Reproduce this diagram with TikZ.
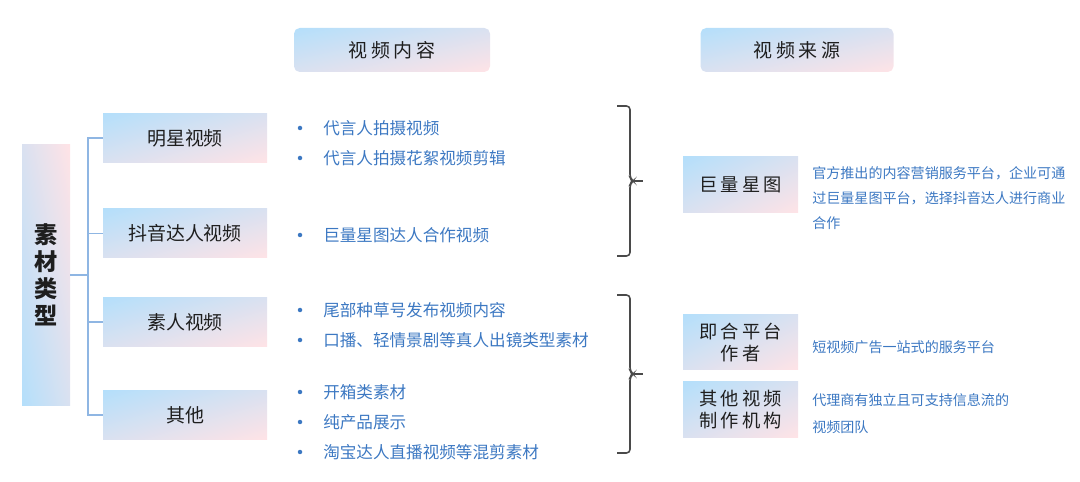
\documentclass[tikz,border=0pt]{standalone}
\usepackage{fontspec}
\setmainfont{Noto Sans CJK SC}
\newfontfamily\spacedfont[LetterSpace=18]{Noto Sans CJK SC}
\usetikzlibrary{positioning,calc}
\definecolor{skyblue}  {HTML}{B4DFFB}
\definecolor{blush}    {HTML}{FFE3E6}
\definecolor{linkblue} {HTML}{8FB6E3}
\definecolor{textblue} {HTML}{3C78C2}
\definecolor{ink}      {HTML}{1E1E1E}
\definecolor{bracegray}{HTML}{4A4A4A}
% skyblue top left -> blush bottom right
\pgfdeclarefunctionalshading{softdiag}{\pgfpointorigin}{\pgfpoint{100bp}{100bp}}{}{%
  sub 50 add 100 div
  dup 0.294 mul 0.706 add exch
  dup 0.015 mul 0.875 add exch
  0.082 mul neg 0.984 add}
% skyblue bottom left -> blush top right
\pgfdeclarefunctionalshading{softrise}{\pgfpointorigin}{\pgfpoint{100bp}{100bp}}{}{%
  add 50 sub 100 div
  dup 0.294 mul 0.706 add exch
  dup 0.015 mul 0.875 add exch
  0.082 mul neg 0.984 add}
\tikzset{
  % --- nodes
  grad/.style   = {shade, shading=softdiag, draw=none, inner sep=0pt,
                   align=center, text=ink},
  head/.style   = {grad, rounded corners=4pt, minimum width=4.9cm, minimum height=1.1cm,
                   font=\spacedfont\fontsize{13.5}{16}\selectfont},
  cat/.style    = {grad, minimum width=4.1cm, minimum height=1.225cm,
                   font=\fontsize{13.5}{16}\selectfont},
  src/.style    = {grad, minimum width=2.875cm, minimum height=1.4cm,
                   font=\spacedfont\fontsize{13}{15.8}\selectfont},
  item/.style   = {anchor=west, inner sep=0pt, text=textblue,
                   font=\fontsize{11.8}{14}\selectfont},
  dot/.style    = {circle, fill=textblue, inner sep=0pt, minimum size=3.2pt},
  desc/.style   = {anchor=west, inner sep=0pt, align=left, text=textblue,
                   font=\fontsize{10}{17.8}\selectfont},
  % --- edges
  link/.style   = {draw=linkblue, line width=1pt},
  bracket/.style= {draw=bracegray, line width=1.1pt, rounded corners=2.5pt},
}

\begin{document}
\begin{tikzpicture}
  \useasboundingbox (0,0) rectangle (27,-12.05);

  % ------------------------------------------------------------------ headers
  \node[head] (hcontent) at (9.8,-1.25)    {视频内容};
  \node[head, minimum width=4.825cm] (hsource) at (19.925,-1.25) {视频来源};

  % ------------------------------------------------------------------ root
  \node[grad, shading=softrise, minimum width=1.2cm, minimum height=6.5cm,
        font=\bfseries\fontsize{16.5}{19.2}\selectfont] (root) at (1.15,-6.875)
    {素\\材\\类\\型};

  % ------------------------------------------------------------------ categories
  \node[cat] (cat1) at (4.625,-3.45)   {明星视频};
  \node[cat] (cat2) at (4.625,-5.8375) {抖音达人视频};
  \node[cat] (cat3) at (4.625,-8.05)   {素人视频};
  \node[cat] (cat4) at (4.625,-10.375) {其他};

  \coordinate (trunk) at (2.2,0);
  \foreach \i in {1,...,4}
    \draw[link] (root.east) -| (trunk |- cat\i.west) -- (cat\i.west);

  % ------------------------------------------------------------------ content list
  \foreach \txt/\y [count=\i] in {代言人拍摄视频/128, 代言人拍摄花絮视频剪辑/158,
      巨量星图达人合作视频/235, 尾部种草号发布视频内容/310,
      口播、轻情景剧等真人出镜类型素材/340, 开箱类素材/392,
      纯产品展示/422, 淘宝达人直播视频等混剪素材/452} {
    \node[dot]  (dot\i)  at (7.5,-\y/40)   {};
    \node[item] (item\i) at (8.075,-\y/40) {\txt};
  }

  % ------------------------------------------------------------------ brackets
  \draw[bracket] (15.425,-2.65) -- (15.75,-2.65) -- (15.75,-4.45)
    -- (15.83,-4.525) -- (15.75,-4.6) -- (15.75,-6.4) -- (15.425,-6.4);
  \draw[draw=bracegray, line width=1.4pt] (15.8,-4.525) -- (16.075,-4.525);

  \draw[bracket] (15.425,-7.375) -- (15.75,-7.375) -- (15.75,-9.275)
    -- (15.83,-9.35) -- (15.75,-9.425) -- (15.75,-11.325) -- (15.425,-11.325);
  \draw[draw=bracegray, line width=1.1pt] (15.8,-9.35) -- (16.075,-9.35);

  % ------------------------------------------------------------------ sources
  \node[src] (star)   at (18.5125,-4.625)  {巨量星图};
  \node[src, minimum height=1.375cm] (jihe)   at (18.5125,-8.5625)
    {即合平台\\作者};
  \node[src, minimum height=1.375cm] (studio) at (18.5125,-10.2375)
    {其他视频\\制作机构};

  \node[desc] (stardesc)   at (20.3,-4.95)
    {官方推出的内容营销服务平台，企业可通\\过巨量星图平台，选择抖音达人进行商业\\合作};
  \node[desc] (jihedesc)   at (20.3,-8.675) {短视频广告一站式的服务平台};
  \node[desc, font=\fontsize{10}{19}\selectfont] (studiodesc) at (20.3,-10.34)
    {代理商有独立且可支持信息流的\\视频团队};
\end{tikzpicture}
\end{document}
